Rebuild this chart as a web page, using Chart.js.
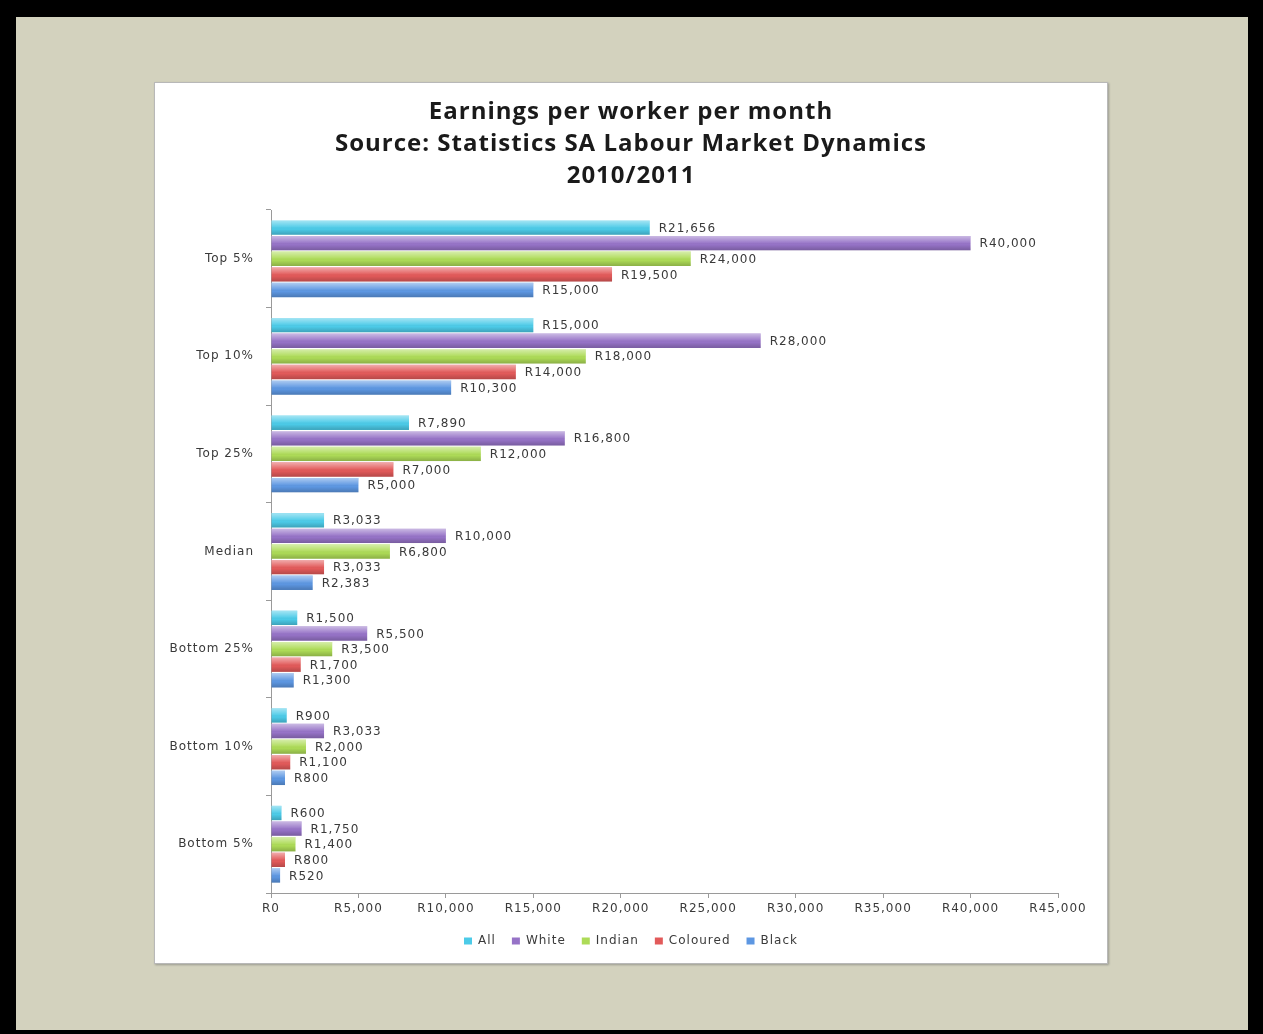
<!DOCTYPE html>
<html>
<head>
<meta charset="utf-8">
<script src="https://cdn.jsdelivr.net/npm/chart.js@4"></script>
<style>
  html, body { margin: 0; padding: 0; background: #000; }
  body { width: 1263px; height: 1034px; position: relative; overflow: hidden; }
  #mat { position: absolute; left: 16px; top: 17px; width: 1232px; height: 1013px; background: #d3d2be; }
  #panel { position: absolute; left: 154px; top: 82px; width: 952px; height: 880px; background: #fff;
           border: 1px solid #b8b8b8; box-shadow: 1px 1px 2px #9a9a90; }
  #panel canvas { position: absolute; left: 0; top: 0; }
</style>
</head>
<body>
<div id="mat"></div>
<div id="panel"><canvas id="earningsChart" width="952" height="880"></canvas></div>
<script>
const categories = ['Top 5%', 'Top 10%', 'Top 25%', 'Median', 'Bottom 25%', 'Bottom 10%', 'Bottom 5%'];
const allWorkers = [21656, 15000, 7890, 3033, 1500, 900, 600];
const whiteWorkers = [40000, 28000, 16800, 10000, 5500, 3033, 1750];
const indianWorkers = [24000, 18000, 12000, 6800, 3500, 2000, 1400];
const colouredWorkers = [19500, 14000, 7000, 3033, 1700, 1100, 800];
const blackWorkers = [15000, 10300, 5000, 2383, 1300, 800, 520];
const xTicks = [0, 5000, 10000, 15000, 20000, 25000, 30000, 35000, 40000, 45000];

const rand = v => 'R' + v.toLocaleString('en-US');

// glossy shading over each bar, lighter on top and darker underneath
const glossPlugin = {
    id: 'gloss',
    afterDatasetsDraw(chart) {
        const ctx = chart.ctx;
        chart.data.datasets.forEach((ds, i) => {
            chart.getDatasetMeta(i).data.forEach(bar => {
                const top = bar.y - bar.height / 2;
                const left = Math.min(bar.base, bar.x);
                const w = Math.abs(bar.x - bar.base);
                const g = ctx.createLinearGradient(0, top, 0, top + bar.height);
                g.addColorStop(0, 'rgba(255,255,255,0.5)');
                g.addColorStop(0.45, 'rgba(255,255,255,0.08)');
                g.addColorStop(0.6, 'rgba(0,0,0,0)');
                g.addColorStop(1, 'rgba(0,0,0,0.2)');
                ctx.save();
                ctx.fillStyle = g;
                ctx.fillRect(left, top, w, bar.height);
                ctx.restore();
            });
        });
    }
};

// value labels just past the end of every bar
const valueLabels = {
    id: 'valueLabels',
    afterDatasetsDraw(chart) {
        const ctx = chart.ctx;
        ctx.save();
        ctx.font = '12px "DejaVu Sans"';
        ctx.fillStyle = '#3a3a3a';
        ctx.textAlign = 'left';
        ctx.textBaseline = 'middle';
        chart.data.datasets.forEach((ds, i) => {
            chart.getDatasetMeta(i).data.forEach((bar, j) => {
                ctx.fillText(rand(ds.data[j]), bar.x + 9, bar.y + 1);
            });
        });
        ctx.restore();
    }
};

const spacing = {
    id: 'spacing',
    beforeUpdate(chart) { chart.ctx.letterSpacing = '1px'; },
    beforeDraw(chart) { chart.ctx.letterSpacing = '1px'; }
};

const ctxEarnings = document.getElementById('earningsChart').getContext('2d');
new Chart(ctxEarnings, {
    type: 'bar',
    data: {
        labels: categories,
        datasets: [
            { label: 'All', data: allWorkers, backgroundColor: '#4ccbe8' },
            { label: 'White', data: whiteWorkers, backgroundColor: '#9673c7' },
            { label: 'Indian', data: indianWorkers, backgroundColor: '#addb57' },
            { label: 'Coloured', data: colouredWorkers, backgroundColor: '#e25a5a' },
            { label: 'Black', data: blackWorkers, backgroundColor: '#5d97e2' }
        ]
    },
    options: {
        indexAxis: 'y',
        responsive: false,
        animation: false,
        categoryPercentage: 0.8,
        barPercentage: 0.92,
        layout: { padding: { left: 0, right: 0, top: 0, bottom: 6 } },
        scales: {
            x: {
                min: 0,
                max: 45000,
                afterBuildTicks: scale => { scale.ticks = xTicks.map(v => ({ value: v })); },
                afterFit: scale => { scale.height = 26; },
                border: { display: true, color: '#9a9a9a' },
                grid: { drawOnChartArea: false, tickLength: 5, color: '#9a9a9a' },
                ticks: {
                    callback: v => rand(v),
                    color: '#3a3a3a',
                    font: { family: 'DejaVu Sans', size: 12 },
                    padding: 4,
                    maxRotation: 0
                }
            },
            y: {
                afterFit: scale => { scale.width = 116; },
                border: { display: true, color: '#9a9a9a' },
                grid: { drawOnChartArea: false, tickLength: 5, color: '#9a9a9a', offset: true },
                ticks: {
                    color: '#3a3a3a',
                    font: { family: 'DejaVu Sans', size: 12 },
                    padding: 12
                }
            },
            // empty strip on the right so the title stays centred on the panel
            yRight: {
                type: 'linear',
                position: 'right',
                afterFit: scale => { scale.width = 49; },
                border: { display: false },
                grid: { display: false },
                ticks: { display: false }
            }
        },
        plugins: {
            title: {
                display: true,
                text: ['Earnings per worker per month', 'Source: Statistics SA Labour Market Dynamics', '2010/2011'],
                color: '#1a1a1a',
                font: { family: 'Open Sans', size: 24, weight: 'bold', lineHeight: 32 / 24 },
                padding: { top: 13, bottom: 18 }
            },
            legend: {
                position: 'bottom',
                labels: {
                    boxWidth: 8,
                    boxHeight: 7,
                    padding: 16,
                    color: '#3a3a3a',
                    font: { family: 'DejaVu Sans', size: 12 }
                }
            },
            tooltip: { enabled: false }
        }
    },
    plugins: [spacing, glossPlugin, valueLabels]
});
</script>
</body>
</html>
